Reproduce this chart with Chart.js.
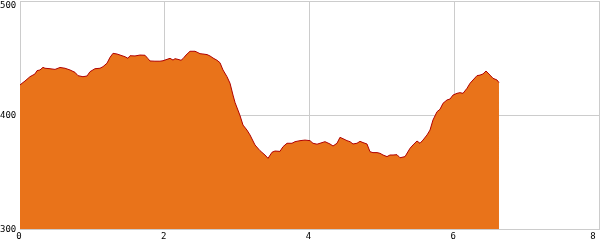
<!DOCTYPE html>
<html>
<head>
<meta charset="utf-8">
<script src="https://cdn.jsdelivr.net/npm/chart.js@4/dist/chart.umd.min.js"></script>
<style>
  html, body { margin: 0; padding: 0; background: #fff; }
  canvas { display: block; }
</style>
</head>
<body>
<canvas id="perfil" width="600" height="250"></canvas>
<script>
const distanceKm = [
  0, 0.028, 0.069, 0.138, 0.207, 0.235, 0.276, 0.318, 0.345, 0.415,
  0.484, 0.553, 0.622, 0.691, 0.760, 0.801, 0.870, 0.926, 0.967, 1.036,
  1.105, 1.147, 1.202, 1.244, 1.285, 1.340, 1.382, 1.451, 1.492, 1.520,
  1.589, 1.658, 1.727, 1.769, 1.796, 1.865, 1.934, 1.976, 2.031, 2.073,
  2.114, 2.142, 2.183, 2.225, 2.252, 2.294, 2.349, 2.418, 2.459, 2.487,
  2.528, 2.584, 2.625, 2.667, 2.722, 2.763, 2.805, 2.860, 2.902, 2.943,
  2.971, 3.040, 3.081, 3.136, 3.178, 3.247, 3.316, 3.385, 3.427, 3.482,
  3.523, 3.592, 3.634, 3.689, 3.758, 3.800, 3.869, 3.938, 4.007, 4.048,
  4.104, 4.145, 4.214, 4.283, 4.325, 4.380, 4.421, 4.463, 4.518, 4.560,
  4.601, 4.656, 4.698, 4.739, 4.794, 4.836, 4.877, 4.933, 4.974, 5.016,
  5.071, 5.112, 5.154, 5.209, 5.250, 5.320, 5.389, 5.430, 5.485, 5.527,
  5.568, 5.624, 5.665, 5.706, 5.762, 5.803, 5.845, 5.900, 5.941, 5.983,
  6.038, 6.079, 6.121, 6.176, 6.218, 6.259, 6.314, 6.356, 6.397, 6.439,
  6.494, 6.535, 6.591, 6.618
];
const elevationM = [
  426.3, 427.8, 429.8, 433.6, 436.0, 438.9, 439.5, 441.8, 441.0, 440.6,
  440.0, 441.7, 441.0, 439.5, 437.4, 434.5, 433.6, 434.2, 438.0, 440.6,
  441.0, 442.4, 445.4, 450.6, 454.1, 453.5, 452.6, 451.1, 449.7, 452.0,
  451.8, 452.6, 452.4, 449.4, 447.4, 447.2, 447.2, 447.6, 448.8, 449.7,
  448.2, 449.4, 448.8, 448.0, 449.4, 452.6, 455.9, 455.9, 454.7, 453.8,
  453.5, 453.0, 451.8, 450.0, 448.0, 445.9, 439.5, 433.6, 427.8, 417.5,
  411.0, 399.5, 391.2, 386.8, 382.5, 373.7, 368.7, 364.9, 362.0, 367.3,
  368.4, 368.1, 372.2, 375.2, 375.2, 376.6, 377.5, 378.0, 377.5, 375.2,
  374.4, 375.2, 376.6, 374.6, 372.8, 375.2, 380.4, 379.2, 377.5, 376.6,
  374.6, 375.2, 376.9, 375.8, 374.6, 367.8, 367.0, 367.0, 366.4, 364.9,
  363.5, 364.9, 364.9, 365.2, 362.5, 363.5, 370.8, 373.7, 377.2, 375.2,
  378.0, 382.5, 386.8, 395.6, 402.9, 405.0, 410.3, 413.2, 414.0, 417.5,
  419.0, 419.6, 419.0, 423.4, 427.8, 430.7, 434.5, 435.0, 436.0, 438.6,
  435.0, 432.2, 430.7, 428.4
];
const xTicks = [0, 2, 4, 6, 8];
const yTicks = [300, 400, 500];

const GRID = "#cccccc";
const LABEL_FONT = "9px \"DejaVu Sans Mono\", monospace";

// etiquetas dibujadas a mano para que no se corten en los bordes
const tickLabelsPlugin = {
  id: "tickLabels",
  afterDraw(chart) {
    const ctx = chart.ctx;
    const xs = chart.scales.x;
    const ys = chart.scales.y;
    ctx.save();
    ctx.font = LABEL_FONT;
    ctx.fillStyle = "#000";
    ctx.textBaseline = "middle";
    ctx.textAlign = "left";
    yTicks.forEach((v) => {
      const py = Math.min(Math.max(ys.getPixelForValue(v), 5), 245);
      ctx.fillText(String(v), 0, py + 0.5);
    });
    ctx.textAlign = "center";
    xTicks.forEach((v) => {
      const px = Math.min(xs.getPixelForValue(v) - 1, 593);
      ctx.fillText(String(v), px, 237);
    });
    ctx.restore();
  }
};

new Chart(document.getElementById("perfil"), {
  type: "line",
  data: {
    datasets: [
      {
        label: "Altitud",
        data: distanceKm.map((d, i) => ({ x: d, y: elevationM[i] })),
        borderColor: "#b00000",
        borderWidth: 1,
        backgroundColor: "#e9731a",
        fill: "start",
        pointRadius: 0,
        tension: 0
      }
    ]
  },
  options: {
    responsive: false,
    animation: false,
    layout: { padding: { left: 20, right: 1, top: 1, bottom: 21 } },
    plugins: {
      legend: { display: false },
      tooltip: { enabled: false }
    },
    scales: {
      x: {
        type: "linear",
        min: 0,
        max: 8,
        ticks: { display: false, stepSize: 2 },
        grid: { color: GRID, drawTicks: false },
        border: { color: GRID }
      },
      y: {
        min: 300,
        max: 500,
        ticks: { display: false, stepSize: 100 },
        grid: { color: GRID, drawTicks: false },
        border: { color: GRID }
      }
    }
  },
  plugins: [tickLabelsPlugin]
});
</script>
</body>
</html>
